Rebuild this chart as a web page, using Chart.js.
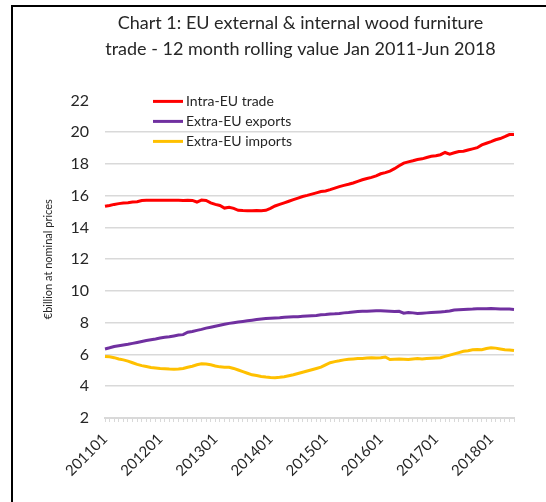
<!DOCTYPE html>
<html>
<head>
<meta charset="utf-8">
<script src="https://cdn.jsdelivr.net/npm/chart.js@4.4.1/dist/chart.umd.min.js"></script>
<style>
  html, body { margin: 0; padding: 0; background: #fff; }
  #frame { position: absolute; left: 11px; top: 5px; width: 535px; height: 497px;
           border-left: 2px solid #000; border-top: 2px solid #000; }
  #wrap { position: absolute; left: 13px; top: 7px; width: 533px; height: 495px; }
</style>
</head>
<body>
<div id="frame"></div>
<div id="wrap"><canvas id="chart"></canvas></div>
<script>
// categories: Jan 2011 .. Jun 2018 (yyyymm)
const years = ['2011', '2012', '2013', '2014', '2015', '2016', '2017', '2018'];
const months = ['01', '02', '03', '04', '05', '06', '07', '08', '09', '10', '11', '12'];
const categories = [];
years.forEach(y => months.forEach(m => {
    if (categories.length < 90) categories.push(y + m);
}));

// € billion, 12 month rolling value
const intraEU = [
    15.33, 15.38, 15.45, 15.50, 15.54, 15.56, 15.60, 15.62, 15.70, 15.71,
    15.71, 15.71, 15.72, 15.71, 15.72, 15.71, 15.71, 15.70, 15.71, 15.70,
    15.60, 15.72, 15.70, 15.55, 15.45, 15.38, 15.22, 15.27, 15.20, 15.08,
    15.06, 15.05, 15.05, 15.06, 15.05, 15.08, 15.20, 15.35, 15.45, 15.55,
    15.65, 15.75, 15.85, 15.95, 16.02, 16.10, 16.18, 16.26, 16.30, 16.38,
    16.48, 16.57, 16.65, 16.72, 16.80, 16.90, 17.00, 17.08, 17.15, 17.25,
    17.38, 17.45, 17.55, 17.70, 17.88, 18.05, 18.13, 18.20, 18.28, 18.32,
    18.40, 18.48, 18.52, 18.58, 18.72, 18.62, 18.70, 18.78, 18.80, 18.88,
    18.95, 19.02, 19.20, 19.30, 19.40, 19.52, 19.60, 19.72, 19.85, 19.86
];
const extraExports = [
    6.35, 6.42, 6.50, 6.55, 6.60, 6.64, 6.70, 6.76, 6.82, 6.88,
    6.93, 6.98, 7.04, 7.08, 7.12, 7.17, 7.22, 7.25, 7.40, 7.45,
    7.52, 7.58, 7.66, 7.72, 7.78, 7.84, 7.90, 7.96, 8.00, 8.04,
    8.08, 8.12, 8.16, 8.20, 8.23, 8.26, 8.28, 8.30, 8.32, 8.35,
    8.36, 8.37, 8.38, 8.40, 8.42, 8.44, 8.46, 8.50, 8.52, 8.55,
    8.56, 8.58, 8.62, 8.64, 8.67, 8.70, 8.72, 8.73, 8.74, 8.75,
    8.76, 8.74, 8.72, 8.70, 8.72, 8.60, 8.65, 8.62, 8.58, 8.60,
    8.62, 8.64, 8.66, 8.68, 8.70, 8.74, 8.80, 8.82, 8.84, 8.85,
    8.86, 8.88, 8.88, 8.88, 8.89, 8.88, 8.86, 8.87, 8.86, 8.84
];
const extraImports = [
    5.87, 5.85, 5.80, 5.72, 5.66, 5.58, 5.48, 5.38, 5.30, 5.24,
    5.18, 5.15, 5.12, 5.10, 5.08, 5.07, 5.08, 5.12, 5.20, 5.26,
    5.35, 5.41, 5.40, 5.35, 5.28, 5.22, 5.20, 5.20, 5.12, 5.02,
    4.92, 4.82, 4.72, 4.67, 4.62, 4.58, 4.55, 4.54, 4.56, 4.60,
    4.66, 4.72, 4.80, 4.88, 4.96, 5.04, 5.12, 5.20, 5.35, 5.48,
    5.55, 5.60, 5.66, 5.70, 5.72, 5.74, 5.75, 5.78, 5.80, 5.78,
    5.80, 5.84, 5.68, 5.70, 5.72, 5.70, 5.68, 5.72, 5.74, 5.72,
    5.74, 5.76, 5.78, 5.80, 5.88, 5.96, 6.04, 6.12, 6.20, 6.24,
    6.30, 6.32, 6.30, 6.38, 6.42, 6.40, 6.35, 6.30, 6.28, 6.25
];

const seriesNames = ['Intra-EU trade', 'Extra-EU exports', 'Extra-EU imports'];
const seriesColors = ['#ff0000', '#7030a0', '#ffc000'];

const FONT = 'Lato, "Open Sans", sans-serif';
const TEXT = '#262626';

// legend drawn inside the plot area, stacked like the Excel original
const insideLegend = {
    id: 'insideLegend',
    afterLayout(chart) {
        // nudge the title a little left, the original is not centred on the plot
        if (chart.titleBlock) {
            chart.titleBlock.left -= 9;
            chart.titleBlock.right -= 9;
        }
    },
    afterDraw(chart) {
        const ctx = chart.ctx;
        const area = chart.chartArea;
        ctx.save();
        ctx.font = '14px ' + FONT;
        ctx.textBaseline = 'middle';
        chart.data.datasets.forEach((ds, i) => {
            const y = area.top + 1 + i * 20;
            const x0 = area.left + 48;
            ctx.strokeStyle = ds.borderColor;
            ctx.lineWidth = 3;
            ctx.beginPath();
            ctx.moveTo(x0, y);
            ctx.lineTo(x0 + 30, y);
            ctx.stroke();
            ctx.fillStyle = TEXT;
            ctx.fillText(ds.label, x0 + 33, y);
        });
        ctx.restore();
    }
};

new Chart(document.getElementById('chart'), {
    type: 'line',
    data: {
        labels: categories,
        datasets: [intraEU, extraExports, extraImports].map((d, i) => ({
            label: seriesNames[i],
            data: d,
            borderColor: seriesColors[i],
            backgroundColor: seriesColors[i],
            borderWidth: 3,
            pointRadius: 0,
            tension: 0
        }))
    },
    options: {
        responsive: true,
        maintainAspectRatio: false,
        animation: false,
        layout: { padding: { top: 0, right: 32, bottom: 0, left: 0 } },
        plugins: {
            legend: { display: false },
            tooltip: { enabled: false },
            title: {
                display: true,
                fullSize: false,
                text: ['Chart 1: EU external & internal wood furniture',
                       'trade - 12 month rolling value Jan 2011-Jun 2018'],
                color: TEXT,
                font: { family: FONT, size: 18, weight: 'normal', lineHeight: 1.4 },
                padding: { top: 4, bottom: 39 }
            }
        },
        scales: {
            x: {
                offset: false,
                grid: {
                    drawOnChartArea: false,
                    drawTicks: true,
                    tickLength: 4,
                    color: '#d9d9d9'
                },
                border: { display: true, color: '#d9d9d9', width: 2 },
                ticks: {
                    autoSkip: false,
                    maxRotation: 45,
                    minRotation: 45,
                    padding: 8,
                    color: TEXT,
                    font: { family: FONT, size: 15 },
                    callback: function (v) {
                        const lab = this.getLabelForValue(v);
                        return lab.endsWith('01') ? lab : '';
                    }
                },
                afterFit: s => { s.height = 84; }
            },
            y: {
                min: 2,
                max: 22,
                grid: {
                    drawTicks: false,
                    color: c => (c.tick && c.tick.value === 22) ? 'rgba(0,0,0,0)' : '#d9d9d9',
                    lineWidth: 1.5
                },
                border: { display: false },
                ticks: {
                    stepSize: 2,
                    padding: 16,
                    color: TEXT,
                    font: { family: FONT, size: 16 }
                },
                title: {
                    display: true,
                    text: '€billion at nominal prices',
                    color: TEXT,
                    font: { family: FONT, size: 11 },
                    padding: { top: 29, bottom: 0 }
                },
                afterFit: s => { s.width = 92; }
            }
        }
    },
    plugins: [insideLegend]
});
</script>
</body>
</html>
